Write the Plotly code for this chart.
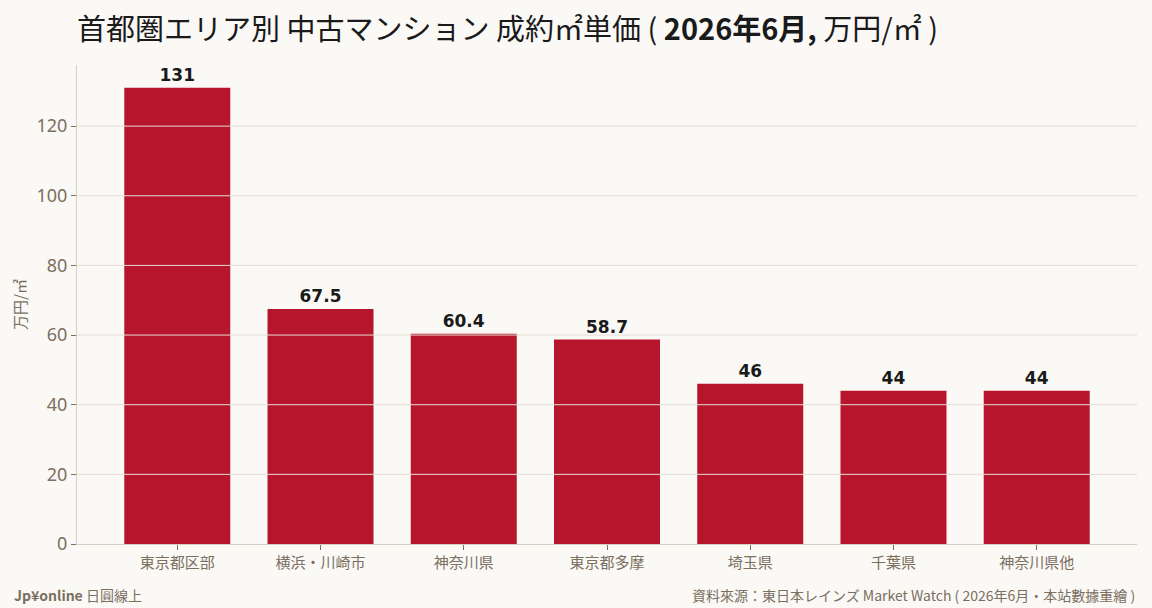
import plotly.graph_objects as go

# 資料
areas = ["東京都区部", "横浜・川崎市", "神奈川県", "東京都多摩", "埼玉県", "千葉県", "神奈川県他"]
unit_price = [131, 67.5, 60.4, 58.7, 46, 44, 44]
value_labels = ["131", "67.5", "60.4", "58.7", "46", "44", "44"]
y_ticks = [0, 20, 40, 60, 80, 100, 120]

BG = "#faf9f6"
BAR = "#b7152c"
MUTED = "#7b6f5f"
GRID = "#e3ded4"
CJK = "Noto Sans CJK JP, Noto Sans, sans-serif"

fig = go.Figure(go.Bar(
    x=areas,
    y=unit_price,
    text=value_labels,
    textposition="outside",
    cliponaxis=False,
    textfont=dict(family="DejaVu Sans", size=17, color="#1a1a1a", weight="bold"),
    marker=dict(color=BAR, line=dict(width=0)),
    width=0.74,
))

# 格線畫在長條上方
for t in y_ticks[1:]:
    fig.add_shape(type="line", xref="paper", yref="y", x0=0, x1=1, y0=t, y1=t,
                  line=dict(color=GRID, width=1), layer="above")

fig.update_layout(
    width=1152, height=608,
    paper_bgcolor=BG, plot_bgcolor=BG,
    margin=dict(l=77, r=15, t=65, b=64),
    showlegend=False,
    font=dict(family=CJK, color=MUTED, size=14),
    title=dict(
        text="首都圏エリア別 中古マンション 成約㎡単価 ( <b>2026年6月,</b> 万円/㎡ )",
        x=77/1152, xanchor="left", y=1 - 30/608, yref="container", yanchor="middle",
        font=dict(family=CJK, size=29, color="#1a1a1a"),
    ),
    xaxis=dict(
        range=[-0.7, 6.7],
        showline=True, linecolor="#d6d0c4", linewidth=1,
        ticks="outside", tickcolor=MUTED, ticklen=5,
        tickfont=dict(family=CJK, size=15, color=MUTED),
    ),
    yaxis=dict(
        range=[0, 137.55],
        tickvals=y_ticks,
        showline=True, linecolor="#d6d0c4", linewidth=1,
        ticks="outside", tickcolor=MUTED, ticklen=5,
        showgrid=False,
        zeroline=False,
        tickfont=dict(family="Noto Sans", size=18, color=MUTED),
        title=dict(text="万円/㎡", font=dict(family=CJK, size=15, color=MUTED), standoff=6),
    ),
    annotations=[
        dict(text="<b>Jp¥online</b> 日圓線上", xref="paper", yref="paper",
             x=-65/1060, y=-51/479, xanchor="left", yanchor="middle", showarrow=False,
             font=dict(family=CJK, size=14, color=MUTED)),
        dict(text="資料來源：東日本レインズ Market Watch ( 2026年6月・本站數據重繪 )",
             xref="paper", yref="paper", x=1, y=-51/479, xanchor="right", yanchor="middle",
             showarrow=False, font=dict(family=CJK, size=14, color=MUTED)),
    ],
)

fig.write_html("out.html", config={"displayModeBar": False},
               post_script="document.body.style.margin='0';")
